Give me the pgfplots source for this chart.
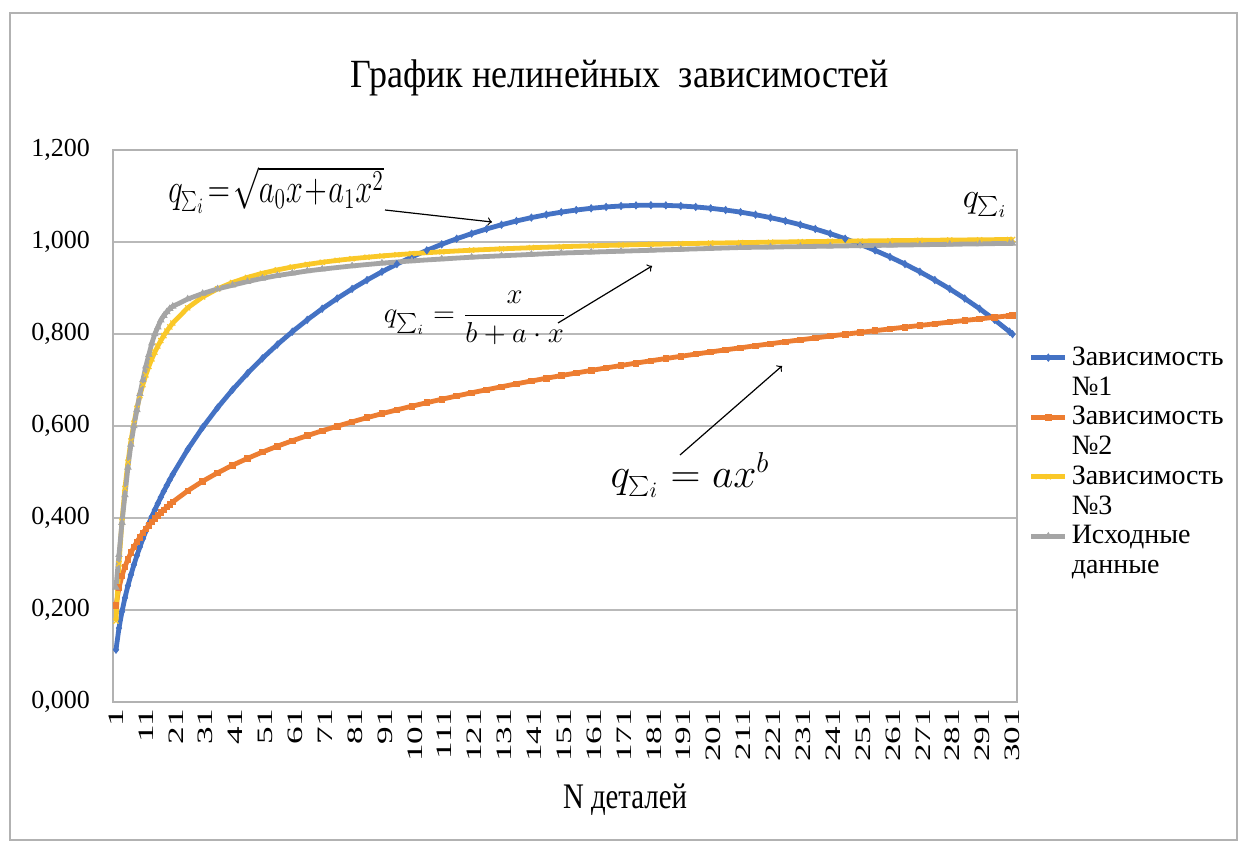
\documentclass[border=0pt]{standalone}
\usepackage{fontspec}
\setmainfont{Liberation Serif}
\usepackage{pgfplots}
\pgfplotsset{compat=1.18}
\definecolor{cblue}{RGB}{68,114,196}
\definecolor{corange}{RGB}{237,125,49}
\definecolor{cyellow}{RGB}{250,200,40}
\definecolor{cgray}{RGB}{165,165,165}
\begin{document}
\begin{tikzpicture}
\path[use as bounding box, fill=white] (0,0) rectangle (621pt,423pt);
\draw[gray!60, line width=0.8pt] (5pt,3pt) rectangle (618.5pt,416.5pt);
\begin{axis}[
  at={(56.5pt,72pt)}, anchor=south west,
  width=452pt, height=276pt, scale only axis,
  xmin=0, xmax=302.5, ymin=0, ymax=1.2,
  ytick={0,0.2,0.4,0.6,0.8,1.0,1.2},
  xtick={1,11,...,301},
  ymajorgrids, grid style={gray!55, line width=0.6pt},
  axis line style={gray!60, line width=0.6pt},
  major tick length=0pt,
  /pgf/number format/assume math mode=true,
  yticklabel style={/pgf/number format/.cd, fixed, fixed zerofill, precision=3, use comma, /tikz/.cd, font=\fontsize{13}{13}\selectfont, xshift=-8pt},
  xticklabel style={rotate=90, anchor=east, font=\fontsize{11}{11}\selectfont, yshift=0pt},
  xticklabel={\scalebox{1.6}[1]{\pgfmathprintnumber{\tick}}},
  legend style={draw=none, fill=none, at={(1.006,0.435)}, anchor=west, font=\fontsize{14}{15}\selectfont, cells={align=left}, row sep=0pt},
  legend image post style={yshift=7.5pt},
  legend cell align=left,
  every axis plot/.append style={line width=2.4pt},
]
\addplot[cblue, mark=diamond*, mark size=1.8pt, mark options={line width=0.4pt}] coordinates {
(1,0.1137)(2,0.1605)(3,0.1964)(4,0.2264)(5,0.2528)(6,0.2765)(7,0.2983)(8,0.3184)(9,0.3372)(10,0.3550)(11,0.3718)(12,0.3877)(13,0.4030)(14,0.4176)(15,0.4316)(16,0.4451)(17,0.4582)(18,0.4708)(19,0.4830)(20,0.4948)(25,0.5491)(30,0.5970)(35,0.6399)(40,0.6788)(45,0.7144)(50,0.7470)(55,0.7771)(60,0.8050)(65,0.8308)(70,0.8549)(75,0.8772)(80,0.8980)(85,0.9173)(90,0.9353)(95,0.9520)(100,0.9675)(105,0.9818)(110,0.9950)(115,1.0071)(120,1.0182)(125,1.0283)(130,1.0375)(135,1.0457)(140,1.0530)(145,1.0594)(150,1.0649)(155,1.0695)(160,1.0733)(165,1.0762)(170,1.0783)(175,1.0796)(180,1.0800)(185,1.0796)(190,1.0783)(195,1.0762)(200,1.0733)(205,1.0695)(210,1.0649)(215,1.0594)(220,1.0530)(225,1.0457)(230,1.0375)(235,1.0283)(240,1.0182)(245,1.0071)(250,0.9950)(255,0.9818)(260,0.9675)(265,0.9520)(270,0.9353)(275,0.9173)(280,0.8980)(285,0.8772)(290,0.8549)(295,0.8308)(300,0.8050)(301,0.7996)
};
\addlegendentry{Зависимость\\№1}
\addplot[corange, mark=square*, mark size=1.4pt, mark options={line width=0.4pt}] coordinates {
(1,0.2100)(2,0.2485)(3,0.2743)(4,0.2941)(5,0.3105)(6,0.3246)(7,0.3370)(8,0.3481)(9,0.3582)(10,0.3675)(11,0.3761)(12,0.3841)(13,0.3917)(14,0.3988)(15,0.4055)(16,0.4119)(17,0.4180)(18,0.4239)(19,0.4295)(20,0.4349)(25,0.4591)(30,0.4799)(35,0.4982)(40,0.5147)(45,0.5296)(50,0.5433)(55,0.5561)(60,0.5679)(65,0.5791)(70,0.5896)(75,0.5996)(80,0.6090)(85,0.6181)(90,0.6268)(95,0.6351)(100,0.6430)(105,0.6507)(110,0.6581)(115,0.6652)(120,0.6722)(125,0.6788)(130,0.6853)(135,0.6917)(140,0.6978)(145,0.7038)(150,0.7096)(155,0.7152)(160,0.7208)(165,0.7262)(170,0.7315)(175,0.7367)(180,0.7418)(185,0.7467)(190,0.7515)(195,0.7563)(200,0.7610)(205,0.7656)(210,0.7700)(215,0.7745)(220,0.7788)(225,0.7831)(230,0.7873)(235,0.7914)(240,0.7955)(245,0.7994)(250,0.8034)(255,0.8072)(260,0.8111)(265,0.8149)(270,0.8185)(275,0.8222)(280,0.8259)(285,0.8294)(290,0.8329)(295,0.8363)(300,0.8397)(301,0.8403)
};
\addlegendentry{Зависимость\\№2}
\addplot[cyellow, mark=x, mark size=1.8pt, mark options={line width=0.6pt}] coordinates {
(1,0.1761)(2,0.3004)(3,0.3928)(4,0.4643)(5,0.5211)(6,0.5674)(7,0.6059)(8,0.6384)(9,0.6661)(10,0.6901)(11,0.7111)(12,0.7296)(13,0.7460)(14,0.7606)(15,0.7738)(16,0.7857)(17,0.7965)(18,0.8064)(19,0.8154)(20,0.8237)(25,0.8569)(30,0.8805)(35,0.8982)(40,0.9120)(45,0.9230)(50,0.9320)(55,0.9394)(60,0.9458)(65,0.9512)(70,0.9559)(75,0.9600)(80,0.9636)(85,0.9668)(90,0.9697)(95,0.9723)(100,0.9747)(110,0.9787)(120,0.9822)(130,0.9851)(140,0.9876)(150,0.9898)(160,0.9917)(170,0.9934)(180,0.9949)(190,0.9963)(200,0.9975)(210,0.9986)(220,0.9996)(230,1.0006)(240,1.0014)(250,1.0022)(260,1.0029)(270,1.0036)(280,1.0042)(290,1.0048)(300,1.0054)(301,1.0054)
};
\addlegendentry{Зависимость\\№3}
\addplot[cgray, mark=triangle*, mark size=1.8pt, mark options={line width=0.4pt}] coordinates {
(1,0.249)(2,0.320)(3,0.390)(4,0.450)(5,0.510)(6,0.560)(7,0.600)(8,0.635)(9,0.670)(10,0.700)(11,0.730)(12,0.755)(13,0.780)(14,0.800)(15,0.815)(16,0.830)(17,0.840)(18,0.848)(19,0.855)(20,0.860)(25,0.876)(30,0.888)(35,0.898)(40,0.906)(45,0.914)(50,0.921)(55,0.927)(60,0.932)(65,0.937)(70,0.941)(80,0.948)(90,0.954)(100,0.959)(110,0.963)(120,0.967)(130,0.970)(140,0.973)(150,0.976)(160,0.978)(170,0.980)(180,0.982)(190,0.984)(200,0.986)(210,0.988)(220,0.989)(230,0.990)(240,0.991)(250,0.992)(260,0.993)(270,0.994)(280,0.995)(290,0.996)(300,0.997)(301,0.997)
};
\addlegendentry{Исходные\\данные}
\end{axis}
% title and axis label
\node[font=\fontsize{20}{24}\selectfont] at (310pt,384pt) {\scalebox{0.9}[1]{График нелинейных\ \ зависимостей}};
\node[font=\fontsize{18}{20}\selectfont] at (312.5pt,23pt) {\scalebox{0.8}[1]{N деталей}};
% formula annotations
\node[font=\fontsize{21}{22}\selectfont] at (138pt,328pt) {\scalebox{0.74}[1]{$q_{\sum_i}\!=\!\sqrt{a_0x\!+\!a_1x^2}$}};
\node[font=\fontsize{14}{16}\selectfont] at (237.5pt,264pt) {$\displaystyle q_{\sum_i}=\frac{x}{b+a\cdot x}$};
\node[font=\fontsize{22}{24}\selectfont, fill=white, inner sep=1pt] at (345pt,185.5pt) {$q_{\sum_i}=ax^b$};
\node[font=\fontsize{18}{20}\selectfont, fill=white, inner sep=1pt] at (492.5pt,320.5pt) {$q_{\sum_i}$};
\draw[->, line width=0.6pt] (192.5pt,318pt) -- (246pt,312pt);
\draw[->, line width=0.6pt] (279pt,261.5pt) -- (326pt,290pt);
\draw[->, line width=0.6pt] (340pt,195.5pt) -- (391pt,240pt);
\end{tikzpicture}
\end{document}
